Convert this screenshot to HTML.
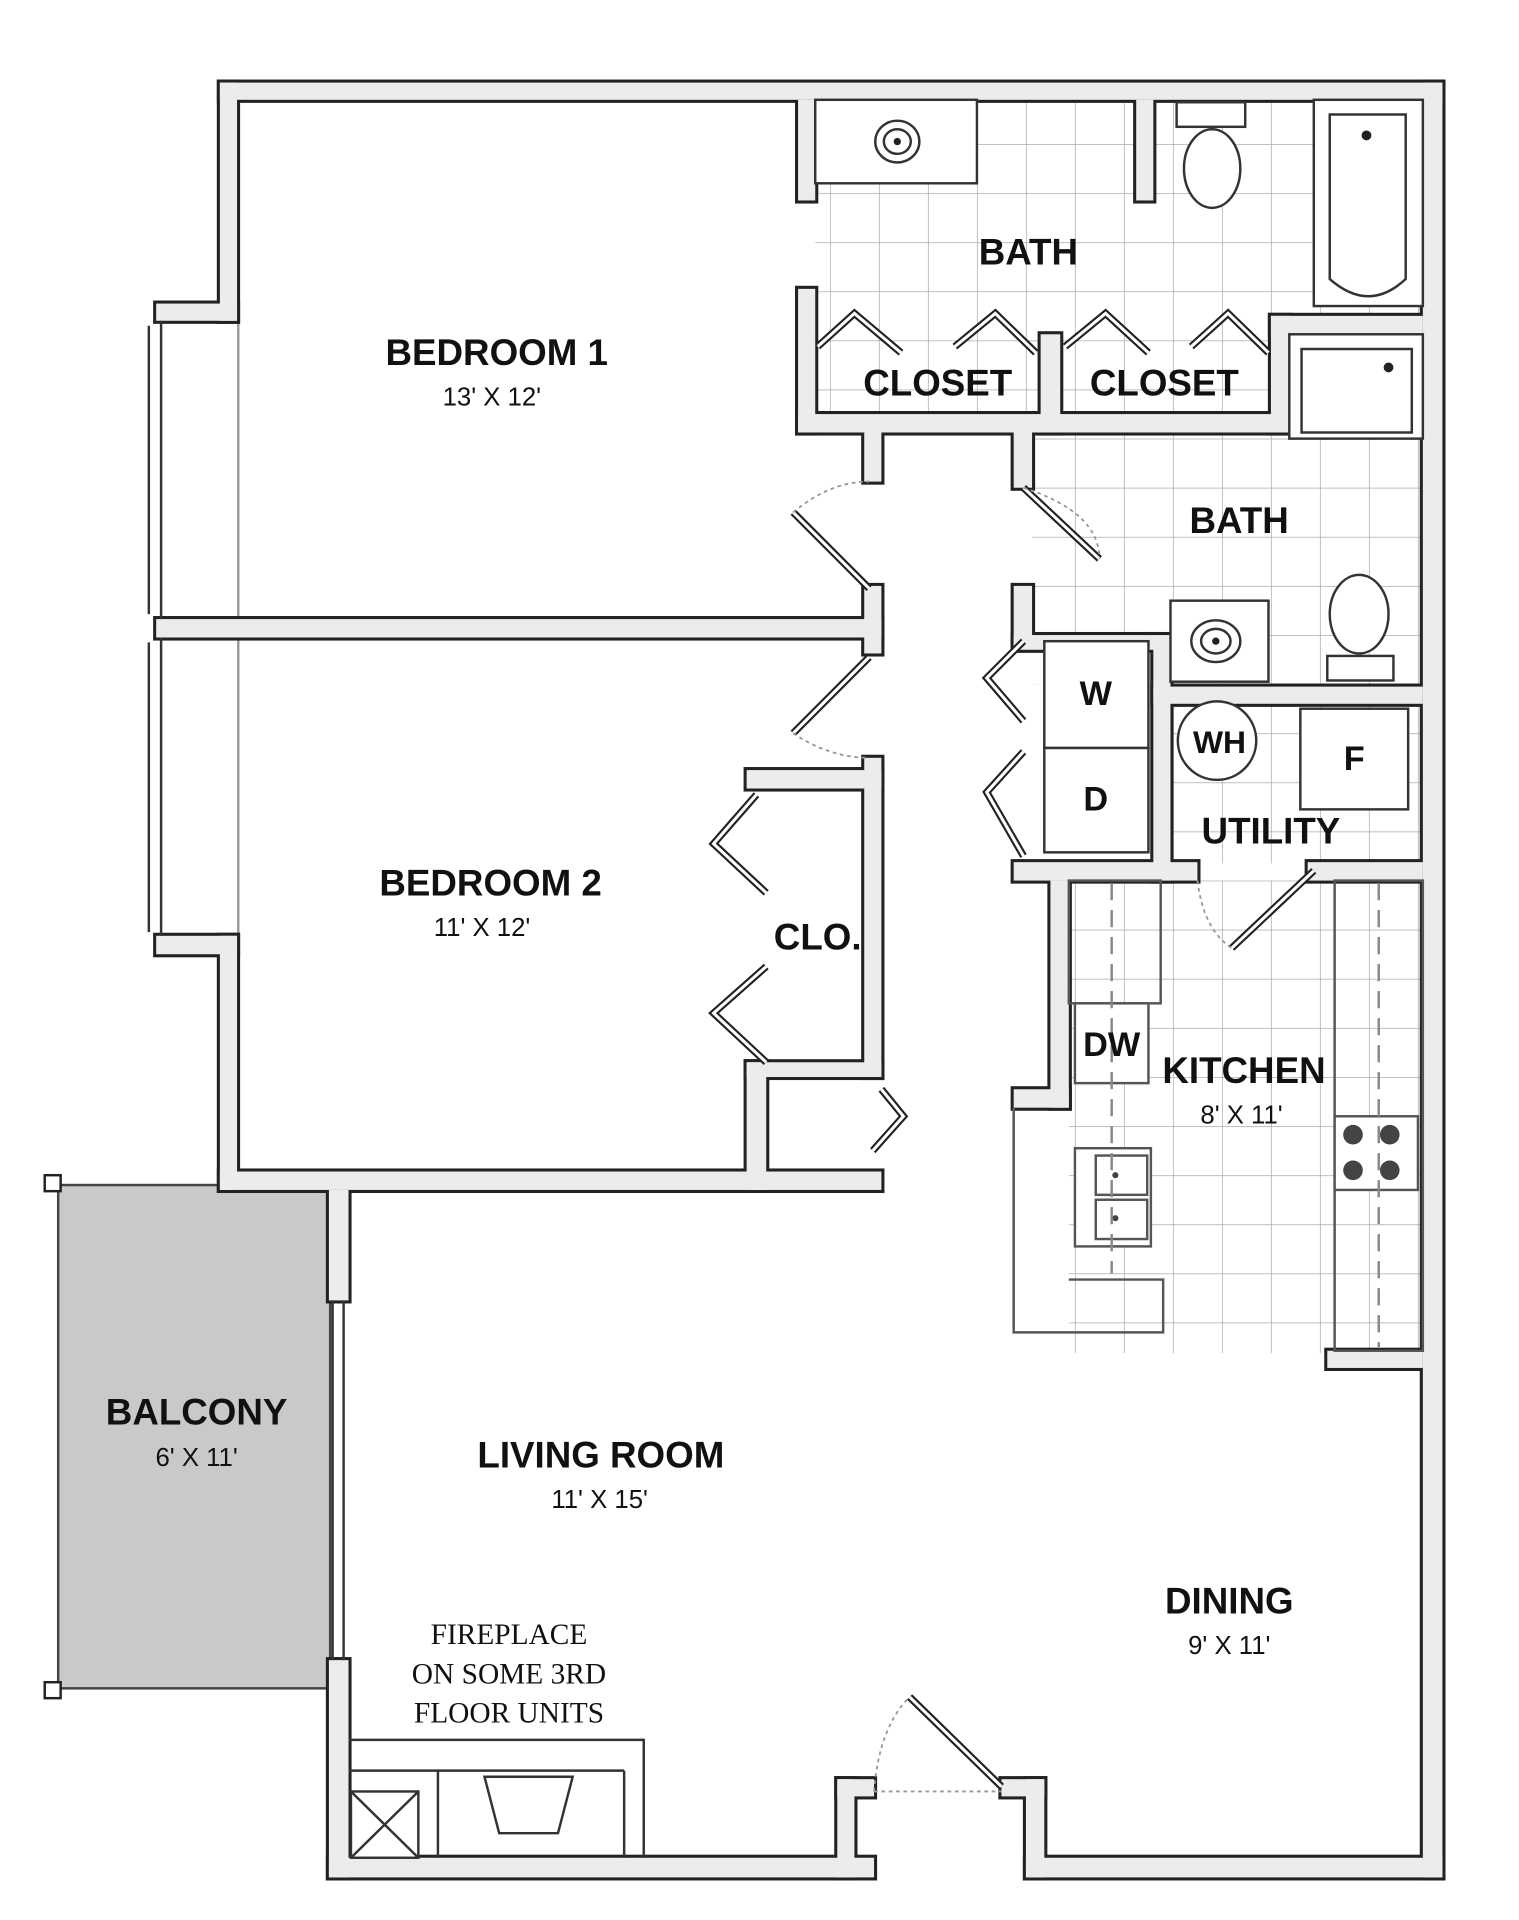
<!DOCTYPE html>
<html><head><meta charset="utf-8"><style>
html,body{margin:0;padding:0;background:#fff;}
svg{display:block;}
.t{font-family:"Liberation Sans",sans-serif;font-weight:bold;fill:#111;text-anchor:middle;}
.d{font-family:"Liberation Sans",sans-serif;fill:#111;text-anchor:middle;font-size:21px;}
.s{font-family:"Liberation Serif",serif;fill:#111;text-anchor:middle;font-size:24px;}
</style></head><body>
<svg width="1519" height="1920" viewBox="2.5 2.7 1240 1564" preserveAspectRatio="none" xmlns="http://www.w3.org/2000/svg">
<defs>
<pattern id="tile" width="40" height="40" patternUnits="userSpaceOnUse">
<rect width="40" height="40" fill="#fff"/>
<path d="M0 0H40M0 0V40" stroke="#aaa" stroke-width="1.2"/>
</pattern>
</defs>
<rect x="-10" y="-10" width="1280" height="1600" fill="#fff"/>
<rect x="50" y="968" width="222" height="410" fill="#c9c9c9" stroke="#444" stroke-width="2"/>
<rect x="39" y="960" width="13" height="13" fill="#fff" stroke="#222" stroke-width="2"/>
<rect x="39" y="1373" width="13" height="13" fill="#fff" stroke="#222" stroke-width="2"/>
<rect x="668" y="84" width="496" height="256" fill="url(#tile)"/>
<rect x="845" y="355" width="319" height="205" fill="url(#tile)"/>
<rect x="875" y="720" width="289" height="385" fill="url(#tile)"/>
<rect x="958" y="576" width="206" height="130" fill="url(#tile)"/>
<line x1="197" y1="264" x2="197" y2="765" stroke="#999" stroke-width="2"/>
<g fill="#000" stroke="#222" stroke-width="5">
<rect x="182" y="70" width="998" height="14"/><rect x="1164" y="70" width="16" height="1462"/>
<rect x="182" y="70" width="14" height="194"/><rect x="130" y="250" width="66" height="14"/>
<rect x="130" y="507" width="592" height="15"/><rect x="130" y="765" width="66" height="15"/>
<rect x="182" y="765" width="14" height="207"/><rect x="182" y="957" width="540" height="15"/>
<rect x="612" y="630" width="110" height="15"/><rect x="708" y="620" width="14" height="260"/>
<rect x="612" y="868" width="110" height="12"/><rect x="612" y="868" width="16" height="104"/>
<rect x="708" y="480" width="14" height="55"/>
<rect x="654" y="84" width="14" height="82"/><rect x="654" y="238" width="14" height="117"/>
<rect x="654" y="340" width="400" height="15"/><rect x="852" y="275" width="16" height="80"/>
<rect x="708" y="355" width="14" height="40"/><rect x="830" y="355" width="15" height="45"/>
<rect x="930" y="84" width="14" height="82"/>
<rect x="1040" y="260" width="124" height="15"/><rect x="1040" y="260" width="15" height="95"/>
<rect x="830" y="480" width="15" height="50"/><rect x="830" y="520" width="115" height="12"/>
<rect x="944" y="520" width="14" height="200"/><rect x="944" y="562" width="220" height="14"/>
<rect x="830" y="705" width="150" height="15"/><rect x="1070" y="705" width="94" height="15"/>
<rect x="860" y="720" width="15" height="185"/><rect x="830" y="890" width="45" height="15"/>
<rect x="1086" y="1103" width="78" height="14"/>
<rect x="271" y="972" width="16" height="90"/><rect x="271" y="1355" width="16" height="177"/>
<rect x="271" y="1516" width="445" height="16"/><rect x="686" y="1452" width="14" height="80"/>
<rect x="686" y="1452" width="30" height="14"/>
<rect x="820" y="1452" width="35" height="14"/><rect x="840" y="1452" width="15" height="80"/>
<rect x="840" y="1516" width="340" height="16"/>
</g>
<g fill="#ececec">
<rect x="182" y="70" width="998" height="14"/><rect x="1164" y="70" width="16" height="1462"/>
<rect x="182" y="70" width="14" height="194"/><rect x="130" y="250" width="66" height="14"/>
<rect x="130" y="507" width="592" height="15"/><rect x="130" y="765" width="66" height="15"/>
<rect x="182" y="765" width="14" height="207"/><rect x="182" y="957" width="540" height="15"/>
<rect x="612" y="630" width="110" height="15"/><rect x="708" y="620" width="14" height="260"/>
<rect x="612" y="868" width="110" height="12"/><rect x="612" y="868" width="16" height="104"/>
<rect x="708" y="480" width="14" height="55"/>
<rect x="654" y="84" width="14" height="82"/><rect x="654" y="238" width="14" height="117"/>
<rect x="654" y="340" width="400" height="15"/><rect x="852" y="275" width="16" height="80"/>
<rect x="708" y="355" width="14" height="40"/><rect x="830" y="355" width="15" height="45"/>
<rect x="930" y="84" width="14" height="82"/>
<rect x="1040" y="260" width="124" height="15"/><rect x="1040" y="260" width="15" height="95"/>
<rect x="830" y="480" width="15" height="50"/><rect x="830" y="520" width="115" height="12"/>
<rect x="944" y="520" width="14" height="200"/><rect x="944" y="562" width="220" height="14"/>
<rect x="830" y="705" width="150" height="15"/><rect x="1070" y="705" width="94" height="15"/>
<rect x="860" y="720" width="15" height="185"/><rect x="830" y="890" width="45" height="15"/>
<rect x="1086" y="1103" width="78" height="14"/>
<rect x="271" y="972" width="16" height="90"/><rect x="271" y="1355" width="16" height="177"/>
<rect x="271" y="1516" width="445" height="16"/><rect x="686" y="1452" width="14" height="80"/>
<rect x="686" y="1452" width="30" height="14"/>
<rect x="820" y="1452" width="35" height="14"/><rect x="840" y="1452" width="15" height="80"/>
<rect x="840" y="1516" width="340" height="16"/>
</g>
<g stroke="#333" stroke-width="2" fill="none">
<line x1="124" y1="268" x2="124" y2="503"/><line x1="134" y1="264" x2="134" y2="507"/>
<line x1="124" y1="526" x2="124" y2="762"/><line x1="134" y1="522" x2="134" y2="765"/>
<line x1="274" y1="1062" x2="274" y2="1355"/><line x1="283" y1="1062" x2="283" y2="1355"/>
</g>
<g stroke="#555" stroke-width="2" fill="#fff">
<rect x="875" y="720" width="75" height="100" fill="none"/>
<polyline points="830,905 830,1088 952,1088 952,1045 875,1045" fill="none"/>
<rect x="1092" y="720" width="72" height="383" fill="none"/>
<rect x="880" y="820" width="60" height="65"/>
<rect x="880" y="938" width="62" height="80"/>
<rect x="897" y="944" width="42" height="32" fill="none"/><rect x="897" y="980" width="42" height="32" fill="none"/>
<rect x="1092" y="912" width="68" height="60"/>
</g>
<g fill="#444"><circle cx="1107" cy="927" r="8"/><circle cx="1137" cy="927" r="8"/><circle cx="1107" cy="956" r="8"/><circle cx="1137" cy="956" r="8"/><circle cx="913" cy="960" r="2.5"/><circle cx="913" cy="995" r="2.5"/></g>
<g stroke="#888" stroke-width="2" stroke-dasharray="14,8"><line x1="910" y1="722" x2="910" y2="1040"/><line x1="1128" y1="722" x2="1128" y2="1100"/></g>
<g stroke="#333" stroke-width="2" fill="#fff">
<rect x="668" y="84" width="132" height="68"/>
<ellipse cx="735" cy="118" rx="18" ry="17"/><ellipse cx="735" cy="118" rx="11" ry="10"/>
<rect x="963" y="86" width="56" height="20"/>
<ellipse cx="992" cy="140" rx="23" ry="32"/>
<rect x="1075" y="84" width="89" height="168"/>
<path d="M1088 96 H1150 V230 Q1120 258 1088 230 Z"/>
<rect x="1055" y="275" width="109" height="85"/><rect x="1065" y="287" width="90" height="68"/>
<rect x="958" y="492" width="80" height="66"/>
<ellipse cx="995" cy="525" rx="20" ry="17"/><ellipse cx="995" cy="525" rx="12" ry="10"/>
<ellipse cx="1112" cy="503" rx="24" ry="32"/><rect x="1086" y="537" width="54" height="20"/>
<rect x="855" y="525" width="85" height="87"/><rect x="855" y="612" width="85" height="85"/>
<circle cx="996" cy="606" r="32"/>
<rect x="1064" y="580" width="88" height="82"/>
</g>
<g fill="#222"><circle cx="1118" cy="113" r="4"/><circle cx="1136" cy="302" r="4"/><circle cx="735" cy="118" r="3"/><circle cx="995" cy="525" r="3"/></g>
<g stroke="#222" stroke-width="6" fill="none">
<polyline points="670,285 700,258 738,290"/><polyline points="782,285 815,258 848,290"/>
<polyline points="872,285 905,258 940,290"/><polyline points="975,285 1005,258 1038,290"/>
<polyline points="620,650 585,690 628,730"/><polyline points="628,790 585,828 628,868"/>
<polyline points="838,525 808,555 838,590"/><polyline points="838,615 808,648 838,700"/>
<polyline points="722,890 740,912 715,940"/>
<line x1="650" y1="420" x2="712" y2="482"/><line x1="650" y1="600" x2="712" y2="538"/>
<line x1="838" y1="400" x2="900" y2="458"/><line x1="1075" y1="712" x2="1008" y2="775"/>
<line x1="745" y1="1385" x2="820" y2="1458"/>
</g>
<g stroke="#fff" stroke-width="2.5" fill="none">
<polyline points="670,285 700,258 738,290"/><polyline points="782,285 815,258 848,290"/>
<polyline points="872,285 905,258 940,290"/><polyline points="975,285 1005,258 1038,290"/>
<polyline points="620,650 585,690 628,730"/><polyline points="628,790 585,828 628,868"/>
<polyline points="838,525 808,555 838,590"/><polyline points="838,615 808,648 838,700"/>
<polyline points="722,890 740,912 715,940"/>
<line x1="650" y1="420" x2="712" y2="482"/><line x1="650" y1="600" x2="712" y2="538"/>
<line x1="838" y1="400" x2="900" y2="458"/><line x1="1075" y1="712" x2="1008" y2="775"/>
<line x1="745" y1="1385" x2="820" y2="1458"/>
</g>
<g stroke="#999" stroke-width="1.5" fill="none" stroke-dasharray="3,3">
<path d="M650 420 Q680 395 712 395"/><path d="M650 600 Q680 620 712 620"/>
<path d="M838 400 Q900 420 900 458"/><path d="M980 720 Q985 760 1008 775"/>
<path d="M716 1462 Q720 1410 745 1385"/><line x1="716" y1="1462" x2="820" y2="1462"/>
</g>
<g stroke="#333" stroke-width="2" fill="#fff">
<polyline points="287,1420 528,1420 528,1516" fill="none"/>
<line x1="287" y1="1445" x2="512" y2="1445"/><line x1="512" y1="1445" x2="512" y2="1516"/>
<line x1="360" y1="1445" x2="360" y2="1516"/>
<rect x="289" y="1462" width="55" height="54"/>
<line x1="289" y1="1462" x2="344" y2="1516"/><line x1="344" y1="1462" x2="289" y2="1516"/>
<path d="M398 1450 L470 1450 L458 1496 L410 1496 Z"/>
</g>
<text class="t" x="408" y="300" font-size="30">BEDROOM 1</text>
<text class="d" x="404" y="333">13' X 12'</text>
<text class="t" x="403" y="732" font-size="30">BEDROOM 2</text>
<text class="d" x="396" y="765">11' X 12'</text>
<text class="t" x="670" y="776" font-size="30">CLO.</text>
<text class="t" x="842" y="218" font-size="30">BATH</text>
<text class="t" x="768" y="325" font-size="30">CLOSET</text>
<text class="t" x="953" y="325" font-size="30">CLOSET</text>
<text class="t" x="1014" y="437" font-size="30">BATH</text>
<text class="t" x="897" y="577" font-size="28">W</text>
<text class="t" x="897" y="663" font-size="28">D</text>
<text class="t" x="998" y="616" font-size="26">WH</text>
<text class="t" x="1108" y="630" font-size="28">F</text>
<text class="t" x="1040" y="690" font-size="30">UTILITY</text>
<text class="t" x="910" y="863" font-size="28">DW</text>
<text class="t" x="1018" y="885" font-size="30">KITCHEN</text>
<text class="d" x="1016" y="918">8' X 11'</text>
<text class="t" x="163" y="1163" font-size="30">BALCONY</text>
<text class="d" x="163" y="1197">6' X 11'</text>
<text class="t" x="493" y="1198" font-size="30">LIVING ROOM</text>
<text class="d" x="492" y="1231">11' X 15'</text>
<text class="t" x="1006" y="1317" font-size="30">DINING</text>
<text class="d" x="1006" y="1350">9' X 11'</text>
<text class="s" x="418" y="1342">FIREPLACE</text>
<text class="s" x="418" y="1374">ON SOME 3RD</text>
<text class="s" x="418" y="1406">FLOOR UNITS</text>
</svg>
</body></html>
